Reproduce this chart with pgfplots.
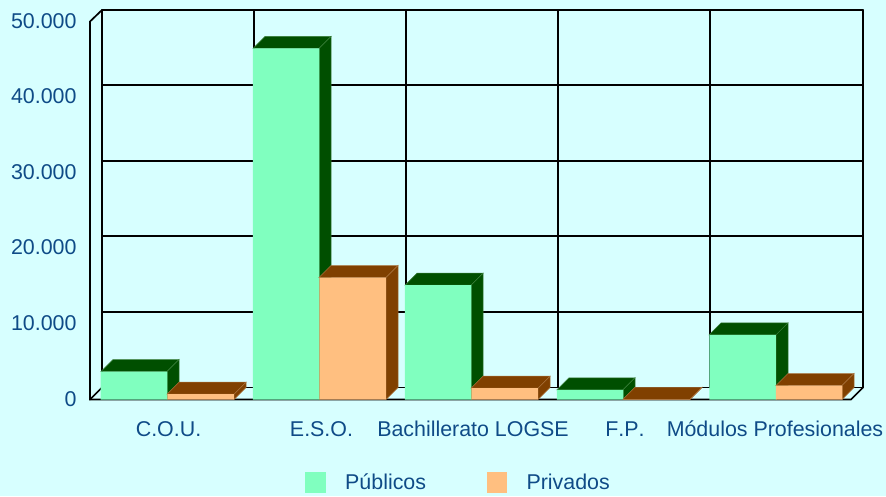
\documentclass[border=0pt]{standalone}
\usepackage{pgfplots}
\pgfplotsset{compat=1.18}
\usepackage{fontspec}
\setmainfont[Kerning=Off]{Liberation Sans}
\definecolor{bg}{HTML}{D7FFFF}
\definecolor{txt}{HTML}{0F4B87}
\definecolor{gf}{HTML}{80FFBF}
\definecolor{gd}{HTML}{004F00}
\definecolor{ge}{HTML}{3A7F3A}
\definecolor{of}{HTML}{FFBF80}
\definecolor{od}{HTML}{804000}
\definecolor{oe}{HTML}{A8703A}
\pgfplotsset{
  gridline/.style={black,line width=1.7pt,forget plot,line cap=round},
  gface/.style={fill=gd,draw=ge,line width=0.5pt,forget plot},
  oface/.style={fill=od,draw=oe,line width=0.5pt,forget plot},
}
\begin{document}
\begin{tikzpicture}
\fill[bg] (-90pt,-96.5pt) rectangle (796pt,399.5pt);
\begin{axis}[
  at={(0pt,0pt)},anchor=south west,
  scale only axis,width=773pt,height=389.5pt,
  xmin=90,xmax=863,ymin=0,ymax=51521,
  clip=false,axis line style={draw=none},major tick length=0pt,
  ytick={0,10000,20000,30000,40000,50000},
  xtick={168.5,321.5,473,625,775},
  xticklabels={C.O.U.,E.S.O.,Bachillerato LOGSE,F.P.,Módulos Profesionales},
  scaled y ticks=false,
  /pgf/number format/.cd,fixed,1000 sep={.},assume math mode=true,
  /pgfplots/.cd,
  tick label style={font=\fontsize{21.4}{25}\selectfont,text=txt},
  yticklabel style={anchor=east,xshift=-10pt,yshift=0.7pt},
  xticklabel style={anchor=base,yshift=-36.5pt},
  legend style={at={(axis cs:305,-11000)},anchor=west,draw=none,fill=none,
    legend columns=2,font=\fontsize{21.4}{25}\selectfont,text=txt,
    /tikz/every even column/.append style={column sep=58.5pt},inner sep=0pt,
    legend cell align=left},
  legend image code/.code={\fill[#1,draw=none] (0pt,-10.5pt) rectangle (20.5pt,10.5pt);\path (38pt,0pt);},
]
% back plane
\addplot[gridline] coordinates {(102,1587) (863,1587)};
\addplot[gridline] coordinates {(102,11587) (863,11587)};
\addplot[gridline] coordinates {(102,21587) (863,21587)};
\addplot[gridline] coordinates {(102,31587) (863,31587)};
\addplot[gridline] coordinates {(102,41587) (863,41587)};
\addplot[gridline] coordinates {(102,51521) (863,51521)};
\addplot[gridline] coordinates {(102,1587) (102,51521)};
\addplot[gridline] coordinates {(254,1587) (254,51521)};
\addplot[gridline] coordinates {(406,1587) (406,51521)};
\addplot[gridline] coordinates {(558,1587) (558,51521)};
\addplot[gridline] coordinates {(710,1587) (710,51521)};
\addplot[gridline] coordinates {(863,1587) (863,51521)};
% side wall and floor
\addplot[gridline] coordinates {(102,51521) (90,50000) (90,0) (851,0) (863,1587)};
\addplot[gridline] coordinates {(90,0) (102,1587)};
% Publicos
\addplot[gface] coordinates {(101,3700) (113,5287) (179,5287) (167,3700)} -- cycle;
\addplot[gface] coordinates {(167,0) (179,1587) (179,5287) (167,3700)} -- cycle;
\addplot[gface] coordinates {(253,46430) (265,48017) (331,48017) (319,46430)} -- cycle;
\addplot[gface] coordinates {(319,0) (331,1587) (331,48017) (319,46430)} -- cycle;
\addplot[gface] coordinates {(405,15120) (417,16707) (483,16707) (471,15120)} -- cycle;
\addplot[gface] coordinates {(471,0) (483,1587) (483,16707) (471,15120)} -- cycle;
\addplot[gface] coordinates {(557,1280) (569,2867) (635,2867) (623,1280)} -- cycle;
\addplot[gface] coordinates {(623,0) (635,1587) (635,2867) (623,1280)} -- cycle;
\addplot[gface] coordinates {(709,8550) (721,10137) (788,10137) (776,8550)} -- cycle;
\addplot[gface] coordinates {(776,0) (788,1587) (788,10137) (776,8550)} -- cycle;
\addplot[ybar,bar width=66.5pt,bar shift=0pt,fill=gf,draw=none] coordinates {(134,3700) (286,46430) (438,15120) (590,1280) (742.5,8550)};
\addlegendentry{Públicos}
% Privados
\addplot[oface] coordinates {(167,700) (179,2287) (246,2287) (234,700)} -- cycle;
\addplot[oface] coordinates {(234,0) (246,1587) (246,2287) (234,700)} -- cycle;
\addplot[oface] coordinates {(319,16130) (331,17717) (398,17717) (386,16130)} -- cycle;
\addplot[oface] coordinates {(386,0) (398,1587) (398,17717) (386,16130)} -- cycle;
\addplot[oface] coordinates {(471,1490) (483,3077) (550,3077) (538,1490)} -- cycle;
\addplot[oface] coordinates {(538,0) (550,1587) (550,3077) (538,1490)} -- cycle;
\addplot[oface] coordinates {(623,30) (635,1617) (702,1617) (690,30)} -- cycle;
\addplot[oface] coordinates {(690,0) (702,1587) (702,1617) (690,30)} -- cycle;
\addplot[oface] coordinates {(776,1850) (788,3437) (854,3437) (842,1850)} -- cycle;
\addplot[oface] coordinates {(842,0) (854,1587) (854,3437) (842,1850)} -- cycle;
\addplot[ybar,bar width=66.5pt,bar shift=0pt,fill=of,draw=none] coordinates {(200.5,700) (352.5,16130) (504.5,1490) (656.5,30) (809,1850)};
\addlegendentry{Privados}
\end{axis}
\pgfresetboundingbox
\path[use as bounding box] (-90pt,-96.5pt) rectangle (796pt,399.5pt);
\end{tikzpicture}
\end{document}
